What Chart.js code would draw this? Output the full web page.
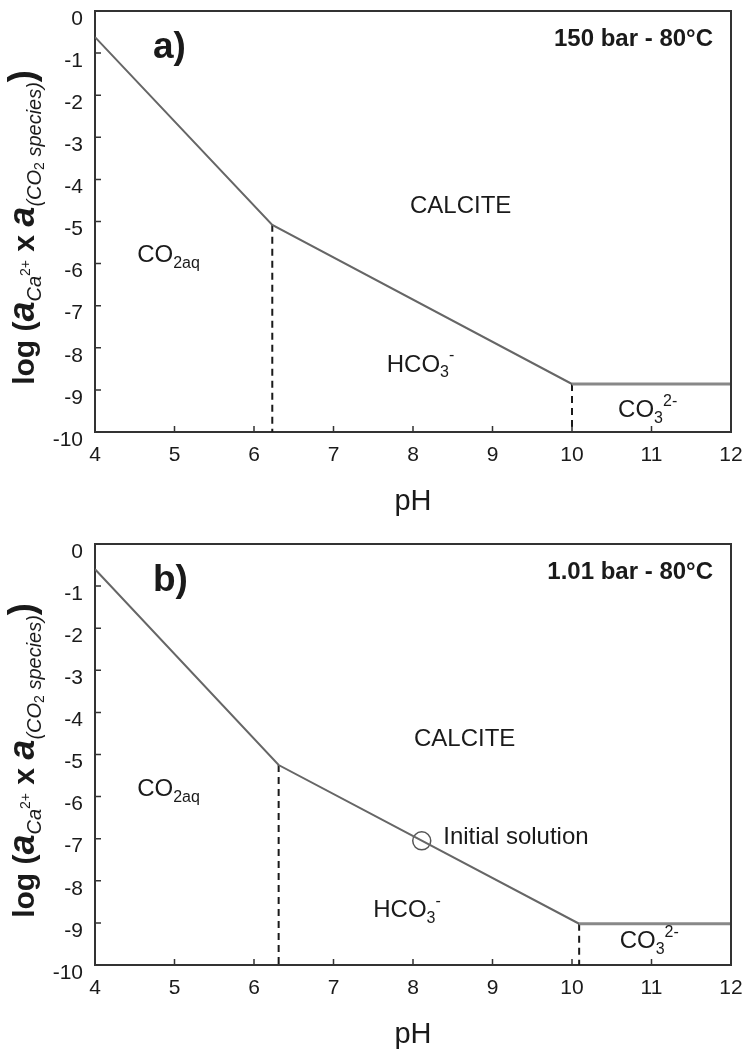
<!DOCTYPE html>
<html>
<head>
<meta charset="utf-8">
<script src="https://cdn.jsdelivr.net/npm/chart.js@4.4.0/dist/chart.umd.min.js"></script>
<style>
  body { margin: 0; background: #fff; width: 748px; height: 1053px; overflow: hidden; }
  .panel { position: absolute; left: 0; width: 748px; }
</style>
</head>
<body>
<div class="panel" style="top:0;height:524px"><canvas id="chartA" width="748" height="524"></canvas></div>
<div class="panel" style="top:512px;height:541px"><canvas id="chartB" width="748" height="541"></canvas></div>
<script>
// axes
const phTicks = [4, 5, 6, 7, 8, 9, 10, 11, 12];
const logTicks = [0, -1, -2, -3, -4, -5, -6, -7, -8, -9, -10];

// panel a) 150 bar - 80°C : calcite saturation boundary
const boundaryA_ph  = [4, 6.23, 10.0, 12];
const boundaryA_log = [-0.62, -5.08, -8.86, -8.86];

// panel b) 1.01 bar - 80°C
const boundaryB_ph  = [4, 6.31, 10.09, 12];
const boundaryB_log = [-0.6, -5.25, -9.02, -9.02];
const initialPh  = [8.11];
const initialLog = [-7.05];

const FONT = '"Liberation Sans", Arial, sans-serif';
const INK = '#1a1a1a';

function pts(xs, ys) { return xs.map((x, i) => ({ x, y: ys[i] })); }

// draw a run of text pieces (for sub/superscripts)
function richText(ctx, runs, x, y, align) {
  let total = 0;
  runs.forEach(r => { ctx.font = r.font; total += ctx.measureText(r.t).width; });
  let cx = align === 'center' ? x - total / 2 : x;
  runs.forEach(r => {
    ctx.font = r.font;
    ctx.fillText(r.t, cx, y + (r.dy || 0));
    cx += ctx.measureText(r.t).width;
  });
}

const big = s => `${s}px ${FONT}`;
const bold = s => `bold ${s}px ${FONT}`;
const ital = s => `italic ${s}px ${FONT}`;

function yTitleRuns() {
  return [
    { t: 'log (', font: bold(30) },
    { t: 'a', font: `italic bold 36px ${FONT}` },
    { t: 'Ca', font: ital(20), dy: 7 },
    { t: '2+', font: big(14), dy: -4 },
    { t: ' x ', font: bold(30) },
    { t: 'a', font: `italic bold 36px ${FONT}` },
    { t: '(CO', font: ital(20), dy: 7 },
    { t: '2', font: big(14), dy: 10 },
    { t: ' species)', font: ital(20), dy: 7 },
    { t: ')', font: bold(36) }
  ];
}

const framePlugin = {
  id: 'frame',
  afterDraw(chart, args, opts) {
    const { ctx, chartArea: a, scales } = chart;
    ctx.save();
    // top and right edges of the box
    ctx.strokeStyle = '#333';
    ctx.lineWidth = 2;
    ctx.beginPath();
    ctx.moveTo(a.left, a.top); ctx.lineTo(a.right, a.top); ctx.lineTo(a.right, a.bottom);
    ctx.stroke();
    // inner tick marks
    ctx.lineWidth = 1.5;
    ctx.beginPath();
    scales.x.ticks.forEach(t => {
      const px = scales.x.getPixelForValue(t.value);
      ctx.moveTo(px, a.bottom); ctx.lineTo(px, a.bottom - 6);
    });
    scales.y.ticks.forEach(t => {
      const py = scales.y.getPixelForValue(t.value);
      ctx.moveTo(a.left, py); ctx.lineTo(a.left + 6, py);
    });
    ctx.stroke();

    ctx.fillStyle = INK;
    ctx.textBaseline = 'alphabetic';
    // x title
    ctx.textAlign = 'center';
    ctx.font = big(29);
    ctx.fillText('pH', (a.left + a.right) / 2, a.bottom + opts.xTitleGap);
    ctx.textAlign = 'left';
    // y title, rotated
    ctx.save();
    ctx.translate(34, (a.top + a.bottom) / 2 + 6);
    ctx.rotate(-Math.PI / 2);
    richText(ctx, yTitleRuns(), 0, 0, 'center');
    ctx.restore();

    // panel letter and conditions
    ctx.font = bold(37);
    ctx.fillText(opts.letter, 153, a.top + 47);
    ctx.textAlign = 'right';
    ctx.font = bold(24);
    ctx.fillText(opts.cond, 713, a.top + 35);
    ctx.textAlign = 'left';

    // region labels
    const X = v => scales.x.getPixelForValue(v), Y = v => scales.y.getPixelForValue(v);
    opts.labels.forEach(l => {
      ctx.textBaseline = 'middle';
      richText(ctx, l.runs, X(l.x), Y(l.y), l.align);
    });
    ctx.restore();
  }
};

const sub = (t) => ({ t, font: big(16), dy: 8 });
const sup = (t) => ({ t, font: big(16), dy: -9 });
const reg = (t) => ({ t, font: big(24) });

function makeChart(id, ph, logv, extra, cfg) {
  const last = ph.length - 1;
  const datasets = [
    {
      data: pts(ph, logv),
      showLine: true,
      borderColor: '#666',
      borderWidth: 2,
      pointRadius: 0,
      segment: { borderWidth: c => c.p1DataIndex === last ? 3 : 2,
                 borderColor: c => c.p1DataIndex === last ? '#888' : '#666' }
    },
    // dashed phase boundaries at the two break points
    ...[1, 2].map(i => ({
      data: pts([ph[i], ph[i]], [logv[i], -10]),
      showLine: true,
      borderColor: INK,
      borderWidth: 2,
      borderDash: [7, 5],
      pointRadius: 0
    })),
    ...extra
  ];
  return new Chart(document.getElementById(id), {
    type: 'scatter',
    data: { datasets },
    options: {
      responsive: false,
      animation: false,
      layout: { padding: { top: cfg.top, right: 17, left: 0, bottom: cfg.bottom } },
      plugins: {
        legend: { display: false },
        tooltip: { enabled: false },
        frame: cfg
      },
      scales: {
        x: {
          type: 'linear', min: phTicks[0], max: phTicks[phTicks.length - 1],
          afterFit: s => { s.height = cfg.xh; s.paddingLeft = 0; s.paddingRight = 0; },
          afterBuildTicks: s => { s.ticks = phTicks.map(v => ({ value: v })); },
          ticks: { color: INK, font: { family: FONT, size: 21 }, padding: 11, maxRotation: 0 },
          grid: { drawOnChartArea: false, drawTicks: false },
          border: { color: '#333', width: 2 }
        },
        y: {
          type: 'linear', min: logTicks[logTicks.length - 1], max: logTicks[0],
          afterFit: s => { s.width = 95; s.paddingTop = 0; s.paddingBottom = 0; },
          afterBuildTicks: s => { s.ticks = logTicks.map(v => ({ value: v })); },
          ticks: { color: INK, font: { family: FONT, size: 21 }, padding: 12, labelOffset: 8 },
          grid: { drawOnChartArea: false, drawTicks: false },
          border: { color: '#333', width: 2 }
        }
      }
    },
    plugins: [framePlugin]
  });
}

makeChart('chartA', boundaryA_ph, boundaryA_log, [], {
  top: 11, bottom: 12, xh: 80, xTitleGap: 78, letter: 'a)', cond: '150 bar - 80°C',
  labels: [
    { x: 8.6, y: -4.65, align: 'center', runs: [reg('CALCITE')] },
    { x: 4.53, y: -5.8, runs: [reg('CO'), sub('2aq')] },
    { x: 7.67, y: -8.41, runs: [reg('HCO'), sub('3'), sup('-')] },
    { x: 10.58, y: -9.48, runs: [reg('CO'), sub('3'), sup('2-')] }
  ]
});

makeChart('chartB', boundaryB_ph, boundaryB_log, [{
  data: pts(initialPh, initialLog),
  pointRadius: 9,
  pointBackgroundColor: '#fff',
  pointBorderColor: '#555',
  pointBorderWidth: 1.5
}], {
  top: 32, bottom: 0, xh: 88, xTitleGap: 78, letter: 'b)', cond: '1.01 bar - 80°C',
  labels: [
    { x: 8.65, y: -4.65, align: 'center', runs: [reg('CALCITE')] },
    { x: 4.53, y: -5.84, runs: [reg('CO'), sub('2aq')] },
    { x: 8.38, y: -6.96, runs: [reg('Initial solution')] },
    { x: 7.5, y: -8.71, runs: [reg('HCO'), sub('3'), sup('-')] },
    { x: 10.6, y: -9.45, runs: [reg('CO'), sub('3'), sup('2-')] }
  ]
});
</script>
</body>
</html>
